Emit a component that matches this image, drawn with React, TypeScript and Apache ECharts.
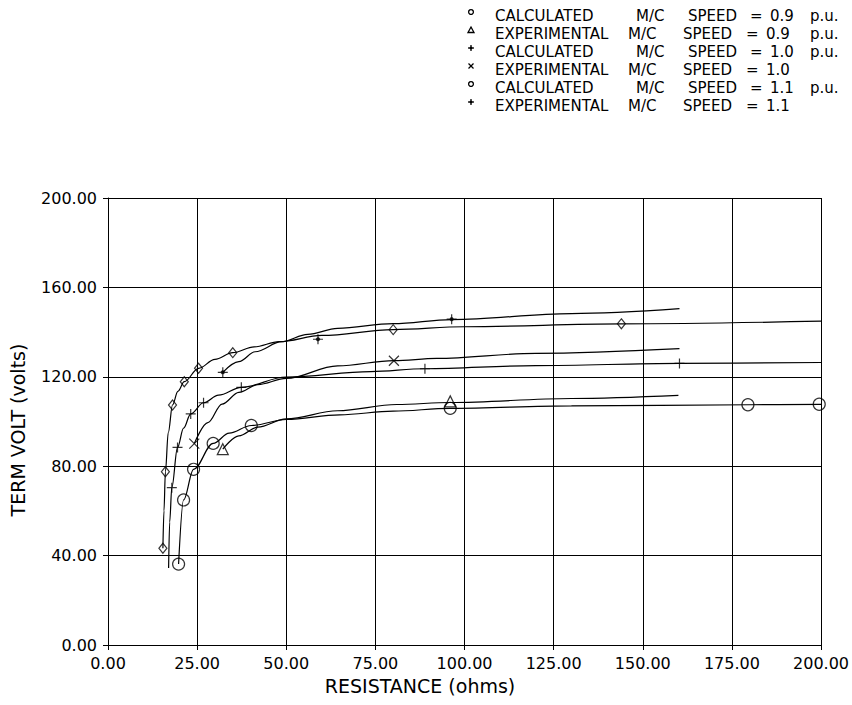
import React, { useEffect, useRef } from "react";
import * as echarts from "echarts";

type Pt = [number, number];

// Calculated, machine speed 0.9 p.u. (fitted curve and marked points)
const calc09Curve: Pt[] = [
  [19.8, 36.2], [21.2, 64.9], [24, 78.6], [29.5, 90.2], [34, 94.8], [40.2, 98.2],
  [50, 100.9], [65, 103], [80, 104.6], [96, 105.9], [130, 107], [180, 107.5], [200, 107.7],
];
const calc09Points: Pt[] = [
  [19.8, 36.2], [21.2, 64.9], [24, 78.6], [29.5, 90.2], [40.2, 98.2], [96, 105.9],
  [179.5, 107.5], [199.5, 107.7],
];

// Experimental, machine speed 0.9 p.u.
const exp09Curve: Pt[] = [
  [32.2, 87.6], [36.7, 93.6], [42, 97.5], [50, 101.2], [64.4, 104.8], [81, 107.6],
  [96, 108.5], [130, 110.3], [160, 111.7],
];
const exp09Points: Pt[] = [[32.2, 87.6], [96, 109]];

// Calculated, machine speed 1.0 p.u.
const calc10Curve: Pt[] = [
  [17, 34.5], [17.3, 55], [17.9, 70.4], [19.5, 88.4], [21.2, 97], [23.2, 103.4],
  [26.8, 108.4], [31, 111.8], [37.4, 115.3], [50, 119.9], [73.7, 122.3], [88.9, 123.6],
  [120, 125], [160.3, 126], [200, 126.4],
];
const calc10Points: Pt[] = [
  [17.9, 70.4], [19.5, 88.4], [23.2, 103.4], [26.8, 108.4], [37.4, 115.3],
  [88.9, 123.6], [160.3, 126],
];

// Experimental, machine speed 1.0
const exp10Curve: Pt[] = [
  [24.2, 90.1], [28, 99.5], [32, 107.8], [36.7, 113], [42, 116.5], [50, 119.3],
  [64.4, 124.9], [80.2, 127.2], [92.2, 128.2], [120, 130.5], [160.3, 132.6],
];
const exp10Points: Pt[] = [[24.2, 90.1], [80.2, 127.2]];

// Calculated, machine speed 1.1 p.u.
const calc11Curve: Pt[] = [
  [15.4, 43.3], [15.7, 60], [16.1, 77.5], [16.9, 95], [18.1, 107.4], [19.6, 113.5],
  [21.4, 117.8], [25.4, 123.8], [30, 127.8], [35, 130.8], [41, 133.4], [48, 135.7],
  [60, 138.5], [80, 141.1], [100, 142.4], [144, 143.7], [200, 144.9],
];
const calc11Points: Pt[] = [
  [15.4, 43.3], [16.1, 77.5], [18.1, 107.4], [21.4, 117.8], [25.4, 123.8], [35, 130.8],
  [80, 141.1], [144, 143.7],
];

// Experimental, machine speed 1.1
const exp11Curve: Pt[] = [
  [32.2, 122], [36.7, 126.8], [41.3, 131.2], [48.7, 135.7], [56, 139], [64.4, 141.7],
  [80, 143.8], [96.4, 145.6], [130, 148.3], [160.3, 150.5],
];
const exp11Points: Pt[] = [[32.2, 122], [58.9, 136.8], [96.4, 145.8]];

// Key text, one row per series
const keyKinds = ["CALCULATED", "EXPERIMENTAL", "CALCULATED", "EXPERIMENTAL", "CALCULATED", "EXPERIMENTAL"];
const keySpeeds = ["0.9", "0.9", "1.0", "1.0", "1.1", "1.1"];
const keyUnits = ["p.u.", "p.u.", "p.u.", "", "p.u.", ""];

const xTickStep = 25;
const yTickStep = 40;

const FONT = '"DejaVu Sans", sans-serif';
const INK = "#000";

const PLUS = "path://M0,5L10,5M5,0L5,10";
const CROSS = "path://M0,0L10,10M10,0L0,10";
const STAR = "path://M0,5L10,5M5,0L5,10M5,3L7,5L5,7L3,5Z";

function curve(data: Pt[]) {
  return {
    type: "line",
    data,
    symbol: "none",
    smooth: 0.35,
    smoothMonotone: "x",
    silent: true,
    lineStyle: { color: INK, width: 1.2 },
    z: 2,
  };
}

function marks(data: Pt[], symbol: string, size: number | number[], filled = false) {
  return {
    type: "scatter",
    data,
    symbol,
    symbolSize: size,
    silent: true,
    itemStyle: { color: filled ? INK : "transparent", borderColor: INK, borderWidth: 1.2 },
    z: 3,
  };
}

// Key block in the top-right corner: a small symbol plus word columns per row
function keyGraphics() {
  const rowsY = [16, 34, 52, 70, 88, 106];
  const calcX = [495, 636, 688, 750, 770, 810];
  const expX = [495, 628, 683, 746, 766, 810];
  const els: any[] = [];
  const txt = (x: number, y: number, t: string) => ({
    type: "text",
    x,
    y,
    silent: true,
    style: { text: t, fill: INK, font: `15px ${FONT}`, align: "left", verticalAlign: "middle" },
  });
  rowsY.forEach((y, i) => {
    const xs = keyKinds[i] === "CALCULATED" ? calcX : expX;
    const words = [keyKinds[i], "M/C", "SPEED", "=", keySpeeds[i], keyUnits[i]];
    words.forEach((w, j) => {
      if (w) els.push(txt(xs[j], y, w));
    });
    const sx = 471;
    const sy = y - 4;
    const stroke = { stroke: INK, lineWidth: 1.3, fill: "none" };
    if (i === 0 || i === 4) {
      els.push({ type: "circle", shape: { cx: sx, cy: sy, r: 2.4 }, style: stroke });
    } else if (i === 1) {
      els.push({
        type: "polygon",
        shape: { points: [[sx, sy - 3], [sx + 3, sy + 2.5], [sx - 3, sy + 2.5]] },
        style: stroke,
      });
    } else if (i === 2 || i === 5) {
      els.push({ type: "line", shape: { x1: sx - 3, y1: sy, x2: sx + 3, y2: sy }, style: stroke });
      els.push({ type: "line", shape: { x1: sx, y1: sy - 3, x2: sx, y2: sy + 3 }, style: stroke });
      els.push({
        type: "polygon",
        shape: { points: [[sx, sy - 1.8], [sx + 1.8, sy], [sx, sy + 1.8], [sx - 1.8, sy]] },
        style: { fill: INK },
      });
    } else if (i === 3) {
      els.push({ type: "line", shape: { x1: sx - 2.5, y1: sy - 2.5, x2: sx + 2.5, y2: sy + 2.5 }, style: stroke });
      els.push({ type: "line", shape: { x1: sx + 2.5, y1: sy - 2.5, x2: sx - 2.5, y2: sy + 2.5 }, style: stroke });
    }
  });
  return els;
}

export default function App() {
  const ref = useRef<HTMLDivElement>(null);

  useEffect(() => {
    if (!ref.current) return;
    const chart = echarts.init(ref.current, undefined, { renderer: "svg" });
    const axisCommon = {
      type: "value",
      min: 0,
      max: 200,
      axisLine: { show: true, onZero: false, lineStyle: { color: INK, width: 1 } },
      axisTick: { show: true, inside: false, length: 5, lineStyle: { color: INK, width: 1 } },
      splitLine: { show: true, lineStyle: { color: INK, width: 1 } },
      axisLabel: {
        color: INK,
        fontFamily: FONT,
        fontSize: 16,
        formatter: (v: number) => v.toFixed(2),
      },
    };
    chart.setOption({
      animation: false,
      backgroundColor: "#fff",
      grid: { left: 108, top: 198, width: 720, height: 447, containLabel: false },
      xAxis: {
        ...axisCommon,
        interval: xTickStep,
        axisLabel: { ...axisCommon.axisLabel, margin: 10 },
      },
      yAxis: {
        ...axisCommon,
        interval: yTickStep,
        axisLabel: { ...axisCommon.axisLabel, margin: 11 },
      },
      series: [
        curve(calc09Curve),
        marks(calc09Points, "circle", 12),
        curve(exp09Curve),
        marks(exp09Points, "triangle", 11),
        curve(calc10Curve),
        marks(calc10Points, PLUS, 10),
        curve(exp10Curve),
        marks(exp10Points, CROSS, 10),
        curve(calc11Curve),
        marks(calc11Points, "diamond", [8, 10]),
        curve(exp11Curve),
        marks(exp11Points, STAR, 10, true),
      ],
      graphic: [
        {
          type: "text",
          x: 420,
          y: 686,
          silent: true,
          style: {
            text: "RESISTANCE (ohms)",
            fill: INK,
            font: `19px ${FONT}`,
            align: "center",
            verticalAlign: "middle",
          },
        },
        {
          type: "text",
          x: 18,
          y: 430,
          rotation: Math.PI / 2,
          silent: true,
          style: {
            text: "TERM VOLT (volts)",
            fill: INK,
            font: `19px ${FONT}`,
            align: "center",
            verticalAlign: "middle",
          },
        },
        ...keyGraphics(),
      ],
    });
    return () => chart.dispose();
  }, []);

  return (
    <div
      ref={ref}
      style={{ position: "absolute", left: 0, top: 0, width: 852, height: 705, background: "#fff" }}
    />
  );
}
